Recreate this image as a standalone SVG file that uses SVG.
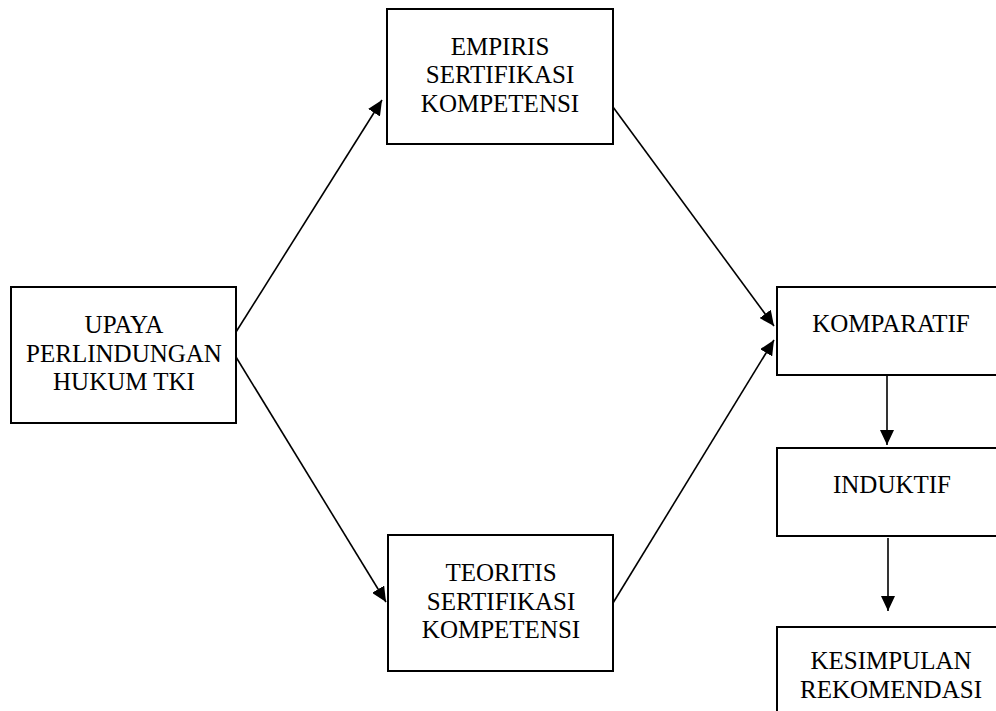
<svg xmlns="http://www.w3.org/2000/svg" width="996" height="711" viewBox="0 0 996 711">
<style>
.box{fill:#fff;stroke:#000;stroke-width:2}
.lbl{font-family:"Liberation Serif","Times New Roman",serif;font-size:25px;fill:#000;text-anchor:middle}
.con{stroke:#000;stroke-width:1.6;fill:none;marker-end:url(#ah)}
</style>
<defs>
<marker id="ah" markerUnits="userSpaceOnUse" markerWidth="16" markerHeight="14" refX="15" refY="7" orient="auto">
<path d="M0,0 L15,7 L0,14 Z" fill="#000"/>
</marker>
</defs>
<rect width="996" height="711" fill="#fff"/>
<g id="connectors">
<line class="con" x1="236" y1="332" x2="382" y2="100"/>
<line class="con" x1="236" y1="357" x2="386" y2="602"/>
<line class="con" x1="613" y1="107" x2="774" y2="326"/>
<line class="con" x1="613" y1="603" x2="774" y2="340"/>
<line class="con" x1="887" y1="375" x2="887" y2="445"/>
<line class="con" x1="888" y1="538" x2="888" y2="611"/>
</g>
<g id="upaya">
<rect class="box" x="11" y="287" width="225" height="136"/>
<text class="lbl" x="124" y="333">UPAYA</text>
<text class="lbl" x="124" y="362">PERLINDUNGAN</text>
<text class="lbl" x="124" y="390">HUKUM TKI</text>
</g>
<g id="empiris">
<rect class="box" x="387" y="9" width="226" height="135"/>
<text class="lbl" x="500" y="55">EMPIRIS</text>
<text class="lbl" x="500" y="83">SERTIFIKASI</text>
<text class="lbl" x="500" y="112">KOMPETENSI</text>
</g>
<g id="teoritis">
<rect class="box" x="388" y="535" width="225" height="136"/>
<text class="lbl" x="501" y="581">TEORITIS</text>
<text class="lbl" x="501" y="610">SERTIFIKASI</text>
<text class="lbl" x="501" y="638">KOMPETENSI</text>
</g>
<g id="komparatif">
<rect class="box" x="777" y="287" width="240" height="88"/>
<text class="lbl" x="891" y="332">KOMPARATIF</text>
</g>
<g id="induktif">
<rect class="box" x="777" y="448" width="240" height="88"/>
<text class="lbl" x="892" y="493">INDUKTIF</text>
</g>
<g id="kesimpulan">
<rect class="box" x="777" y="627" width="240" height="100"/>
<text class="lbl" x="891" y="669">KESIMPULAN</text>
<text class="lbl" x="891" y="698">REKOMENDASI</text>
</g>
</svg>
